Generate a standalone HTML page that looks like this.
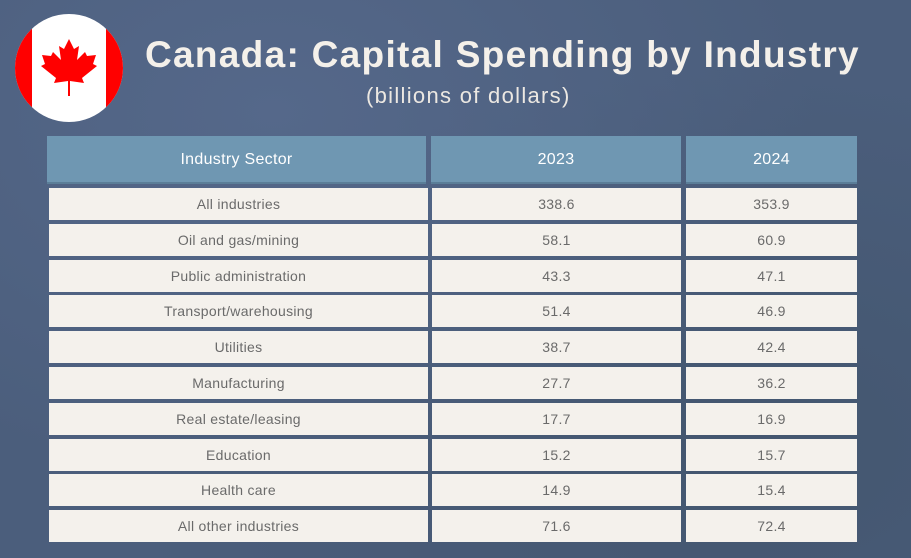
<!DOCTYPE html>
<html><head><meta charset="utf-8"><style>
body{margin:0;width:911px;height:558px;overflow:hidden;background:#4b5e7c;font-family:"Liberation Sans",sans-serif;position:relative}
.bg{position:absolute;inset:0;background:radial-gradient(ellipse at 30% 20%,#55688a 0%,rgba(0,0,0,0) 60%),radial-gradient(ellipse at 80% 80%,#43566f 0%,rgba(0,0,0,0) 60%)}
.t{position:absolute;left:145px;top:34px;color:#f4f0ea;font-weight:bold;font-size:37px;letter-spacing:1.3px;white-space:nowrap}
.s{position:absolute;left:366px;top:83px;color:#ece8e2;font-size:22px;letter-spacing:1.3px;white-space:nowrap}
.c{position:absolute;font-size:14px;color:#6a6a6a;text-align:center;line-height:33px;background:#f4f1ec;letter-spacing:0.3px}
.h{position:absolute;background:#6f97b2;color:#fff;font-size:16px;text-align:center;line-height:48px;height:48px;top:136px;border-bottom:2px solid #5b7e98;box-sizing:border-box;letter-spacing:0.3px}
</style></head><body><div class="bg"></div>
<svg style="position:absolute;left:15px;top:14px" width="108" height="108" viewBox="0 0 108 108">
<defs><clipPath id="cc"><circle cx="54" cy="54" r="54"/></clipPath></defs>
<g clip-path="url(#cc)"><rect width="108" height="108" fill="#fff"/><rect width="17" height="108" fill="#f00"/><rect x="91" width="17" height="108" fill="#f00"/>
<path fill="#f00" d="M54 25 l5 10 5-3-2 14 8-8 2 4 9-1-3 9 4 2-15 12 2 5-14-2v15h-2v-15l-14 2 2-5-15-12 4-2-3-9 9 1 2-4 8 8-2-14 5 3z"/></g></svg>
<div class="t">Canada: Capital Spending by Industry</div>
<div class="s">(billions of dollars)</div>
<div class="h" style="left:47px;width:379px">Industry Sector</div>
<div class="h" style="left:431px;width:250px">2023</div>
<div class="h" style="left:686px;width:171px">2024</div>
<div id="r"></div>
<script>
var d=[["All industries","338.6","353.9"],["Oil and gas/mining","58.1","60.9"],["Public administration","43.3","47.1"],["Transport/warehousing","51.4","46.9"],["Utilities","38.7","42.4"],["Manufacturing","27.7","36.2"],["Real estate/leasing","17.7","16.9"],["Education","15.2","15.7"],["Health care","14.9","15.4"],["All other industries","71.6","72.4"]];
var h="";d.forEach(function(r,i){var y=188+i*35.8;h+='<div class="c" style="left:49px;width:379px;top:'+y+'px;height:32px">'+r[0]+'</div><div class="c" style="left:432px;width:249px;top:'+y+'px;height:32px">'+r[1]+'</div><div class="c" style="left:686px;width:171px;top:'+y+'px;height:32px">'+r[2]+'</div>';});
document.getElementById("r").innerHTML=h;
</script>
</body></html>
